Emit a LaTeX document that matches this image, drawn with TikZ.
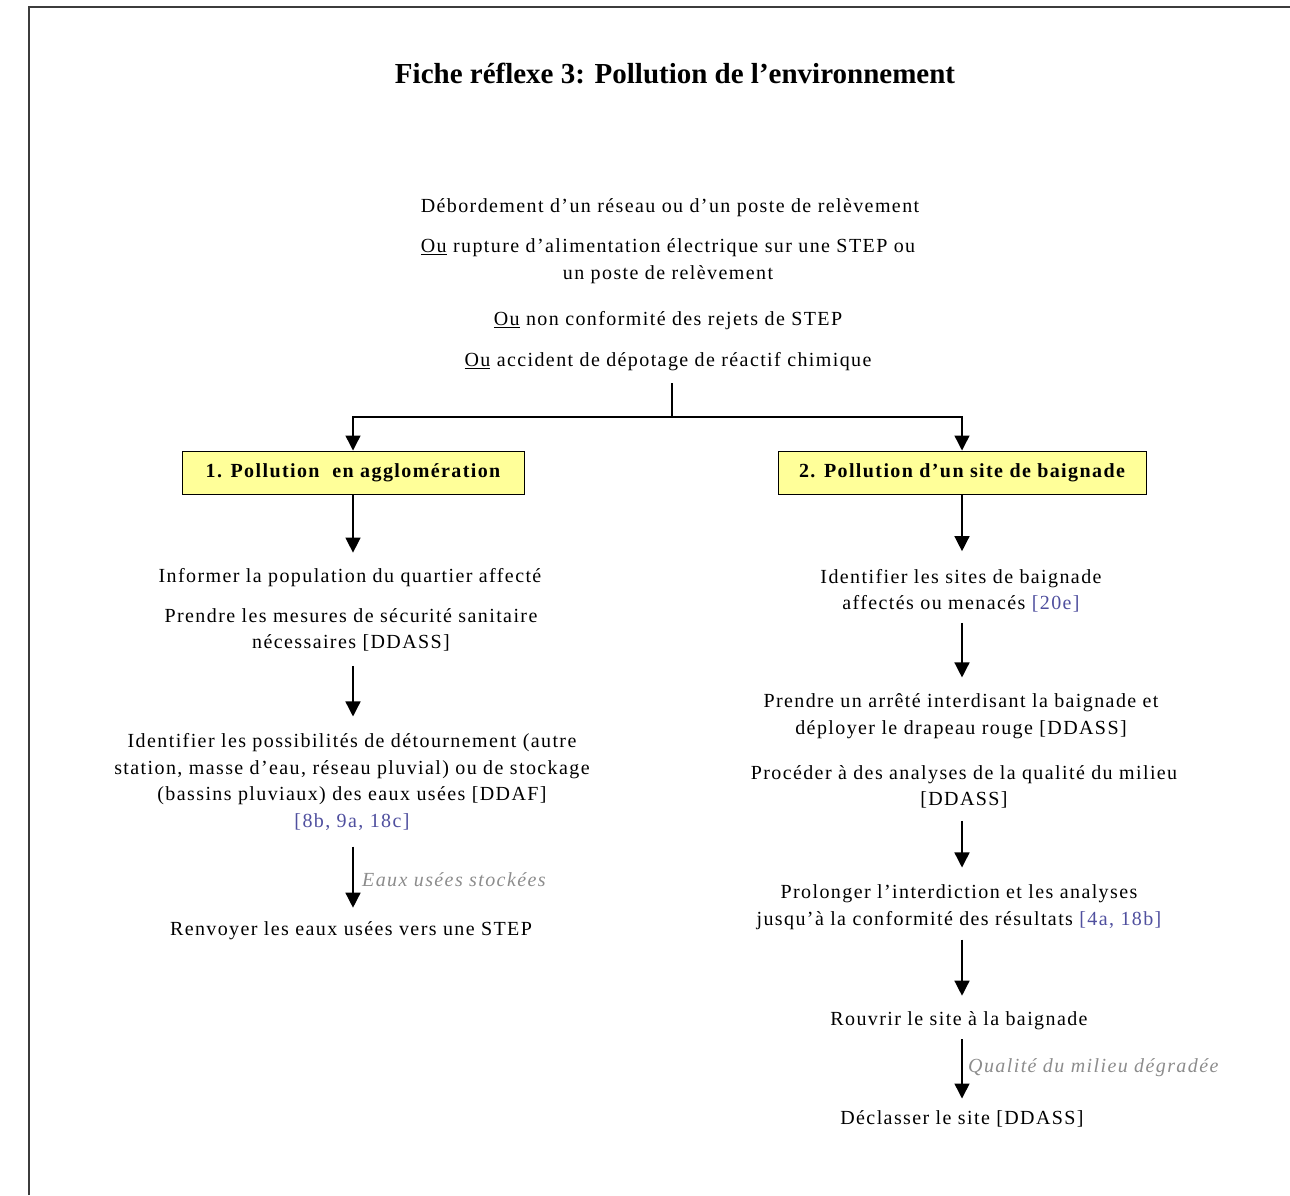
\documentclass[tikz,border=0pt]{standalone}
\usepackage{fontspec}
\setmainfont{Liberation Serif}
\newfontfamily\bodyfont{Liberation Serif}[LetterSpace=7]
\usetikzlibrary{arrows.meta}
\definecolor{refblue}{HTML}{4F4F9E}
\definecolor{notegray}{HTML}{8C8C8C}
\definecolor{boxyellow}{HTML}{FFFF99}
\definecolor{framegray}{HTML}{3C3C3C}
\newcommand{\refs}[1]{\textcolor{refblue}{#1}}
\tikzset{
  txt/.style={align=center, inner sep=0pt, font=\bodyfont\fontsize{20}{26.5}\selectfont},
  heading/.style={draw=black, line width=1pt, fill=boxyellow, minimum height=43pt,
    inner sep=0pt, font=\bodyfont\bfseries\fontsize{20}{24}\selectfont},
  arr/.style={line width=1.4pt, -{Triangle[width=15pt,length=15pt]}},
  link/.style={line width=1.4pt},
  note/.style={font=\bodyfont\itshape\fontsize{20}{24}\selectfont, text=notegray, anchor=west, inner sep=0pt}
}
\begin{document}
\begin{tikzpicture}[x=1pt, y=-1pt]
\useasboundingbox (0,0) rectangle (1290,1195);
% page frame (only top and left edges are visible)
\draw[framegray, line width=2pt] (29,1195) -- (29,7) -- (1290,7);

% title
\node[font=\bfseries\fontsize{29}{33}\selectfont, inner sep=0pt] (title) at (675,73)
  {Fiche réflexe 3: Pollution de l'environnement};

% triggering events
\node[txt] (ev1) at (670,208) {Débordement d’un réseau ou d’un poste de relèvement};
\node[txt] (ev2) at (668,261) {\underline{Ou} rupture d’alimentation électrique sur une STEP ou\\un poste de relèvement};
\node[txt] (ev3) at (668,321) {\underline{Ou} non conformité des rejets de STEP};
\node[txt] (ev4) at (668,362) {\underline{Ou} accident de dépotage de réactif chimique};

% the two branches
\node[heading, minimum width=342pt] (b1) at (353,472.5) {1. Pollution\ \ en agglomération};
\node[heading, minimum width=368pt] (b2) at (962,472.5) {2. Pollution d’un site de baignade};

\coordinate (split) at (672,417);
\draw[link] (ev4.south -| split) ++(0,12) -- (split);
\draw[arr] (split) -| (b1.north);
\draw[arr] (split) -| (b2.north);

% branch 1: pollution in a built-up area
\node[txt] (l1) at (350,578) {Informer la population du quartier affecté};
\node[txt] (l2) at (351,630) {Prendre les mesures de sécurité sanitaire\\nécessaires [DDASS]};
\node[txt] (l3) at (352,782) {Identifier les possibilités de détournement (autre\\station, masse d’eau, réseau pluvial) ou de stockage\\(bassins pluviaux) des eaux usées [DDAF]\\{}\refs{[8b, 9a, 18c]}};
\node[txt] (l4) at (351,931) {Renvoyer les eaux usées vers une STEP};

\draw[arr] (b1.south) -- ([yshift=16pt]l1.north -| b1.south);
\draw[arr] ([yshift=-14pt]l2.south -| b1.south) -- ([yshift=17pt]l3.north -| b1.south);
\draw[arr] ([yshift=-16pt]l3.south -| b1.south) -- ([yshift=14pt]l4.north -| b1.south);
\node[note] (n1) at (362,880) {Eaux usées stockées};

% branch 2: pollution of a bathing site
\node[txt] (r1) at (961,591) {Identifier les sites de baignade\\affectés ou menacés \refs{[20e]}};
\node[txt] (r2) at (961,716) {Prendre un arrêté interdisant la baignade et\\déployer le drapeau rouge [DDASS]};
\node[txt] (r3) at (964,787) {Procéder à des analyses de la qualité du milieu\\{}[DDASS]};
\node[txt] (r4) at (959,907) {Prolonger l’interdiction et les analyses\\jusqu’à la conformité des résultats \refs{[4a, 18b]}};
\node[txt] (r5) at (959,1021) {Rouvrir le site à la baignade};
\node[txt] (r6) at (962,1119) {Déclasser le site [DDASS]};

\draw[arr] (b2.south) -- ([yshift=18pt]r1.north -| b2.south);
\draw[arr] ([yshift=-10pt]r1.south -| b2.south) -- ([yshift=16pt]r2.north -| b2.south);
\draw[arr] ([yshift=-12pt]r3.south -| b2.south) -- ([yshift=17pt]r4.north -| b2.south);
\draw[arr] ([yshift=-10pt]r4.south -| b2.south) -- ([yshift=16pt]r5.north -| b2.south);
\draw[arr] ([yshift=-9pt]r5.south -| b2.south) -- ([yshift=12pt]r6.north -| b2.south);
\node[note] (n2) at (968,1068) {Qualité du milieu dégradée};
\end{tikzpicture}
\end{document}
